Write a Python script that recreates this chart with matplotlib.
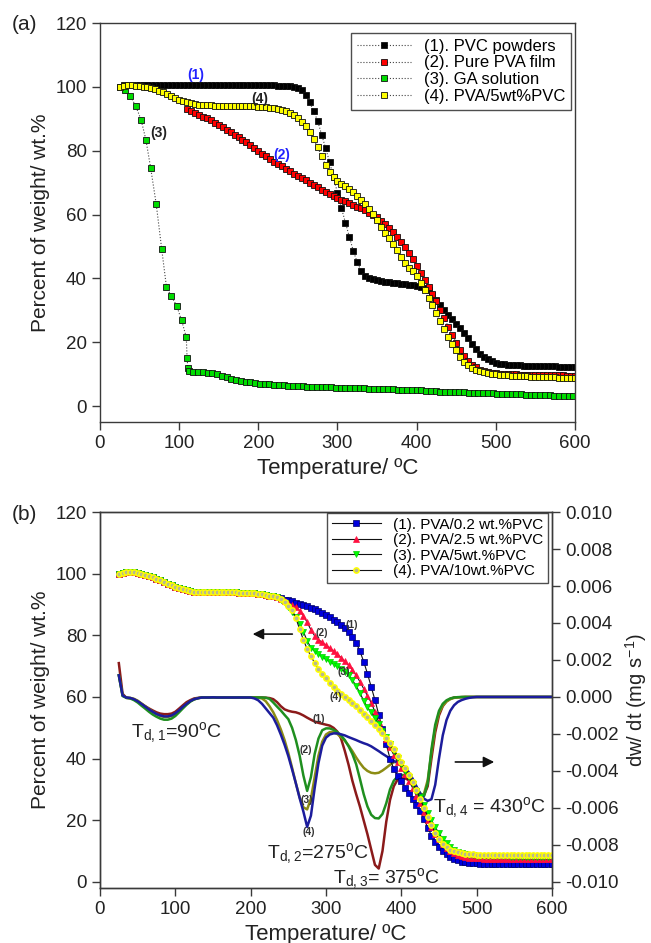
import matplotlib
matplotlib.use('Agg')
import matplotlib.pyplot as plt
from matplotlib.ticker import FormatStrFormatter

plt.rcParams['font.family'] = ['Liberation Sans', 'DejaVu Sans']
plt.rcParams['mathtext.fontset'] = 'custom'
plt.rcParams['mathtext.rm'] = 'Liberation Sans'
plt.rcParams['mathtext.default'] = 'regular'
plt.rcParams['axes.unicode_minus'] = False

# ---------------- panel (a) data: weight % vs temperature ----------------
a_temp_black = list(range(30, 605, 5))
a_black = [100.5, 100.6, 100.6, 100.6, 100.6, 100.6, 100.6, 100.6, 100.6, 100.6, 100.6, 100.6, 100.6, 100.6,
           100.6, 100.6, 100.6, 100.6, 100.6, 100.6, 100.6, 100.6, 100.6, 100.6, 100.6, 100.6, 100.6, 100.6,
           100.6, 100.6, 100.6, 100.6, 100.6, 100.6, 100.6, 100.6, 100.5, 100.5, 100.5, 100.4, 100.4, 100.3,
           100.3, 100.1, 99.7, 98.9, 97.4, 95.1, 92.4, 89.3, 85.0, 80.8, 76.5, 71.6, 66.8, 62.0,
           57.5, 53.0, 48.6, 45.0, 42.3, 40.8, 40.1, 39.7, 39.4, 39.2, 39.0, 38.8, 38.6, 38.5,
           38.3, 38.2, 38.0, 37.9, 37.7, 37.4, 37.0, 36.2, 34.9, 33.2, 31.5, 30.0, 28.6, 27.2,
           25.8, 24.4, 23.0, 21.4, 19.5, 17.8, 16.4, 15.4, 14.7, 14.1, 13.6, 13.3, 13.1, 12.9,
           12.8, 12.7, 12.7, 12.6, 12.6, 12.5, 12.5, 12.5, 12.4, 12.4, 12.4, 12.4, 12.3, 12.3,
           12.3, 12.3, 12.3]

a_temp_red = list(range(110, 605, 5))
a_red = [93.2, 92.3, 91.8, 91.3, 90.7, 90.1, 89.5, 88.8, 88.1, 87.4, 86.6, 85.8, 85.0, 84.2,
         83.4, 82.6, 81.7, 80.9, 80.0, 79.1, 78.2, 77.4, 76.6, 75.8, 75.1, 74.4, 73.6, 72.8,
         72.1, 71.4, 70.7, 70.0, 69.2, 68.5, 67.8, 67.1, 66.4, 65.8, 65.2, 64.7, 64.2, 63.6,
         63.1, 62.5, 61.9, 61.3, 60.6, 59.9, 59.1, 58.0, 56.9, 55.7, 54.5, 53.0, 51.4, 49.7,
         47.9, 46.0, 43.9, 41.7, 39.5, 37.3, 35.2, 33.0, 30.2, 27.6, 24.8, 22.2, 19.9, 17.6,
         15.8, 14.2, 13.0, 12.1, 11.4, 10.9, 10.6, 10.4, 10.2, 10.1, 10.0, 10.0, 9.9, 9.9,
         9.8, 9.8, 9.8, 9.7, 9.7, 9.7, 9.7, 9.6, 9.6, 9.6, 9.6, 9.6, 9.5, 9.5,
         9.5]

a_temp_green = [25, 31, 38, 45, 52, 58, 64, 71, 78, 84, 90, 97, 103, 109, 110, 111, 112] + list(range(118, 604, 6))
a_green = [100.0, 98.9, 97.2, 94.1, 89.6, 83.4, 74.6, 63.3, 49.1, 37.2, 34.5, 31.3, 26.9, 21.6, 15.2, 11.9, 10.9,
           10.8, 10.7, 10.6, 10.4, 10.2, 9.9, 9.5, 9.1, 8.6, 8.2, 7.9, 7.6, 7.4, 7.2, 7.0, 6.9, 6.8, 6.7,
           6.6, 6.5, 6.4, 6.3, 6.25, 6.2, 6.1, 6.05, 6.0, 5.95, 5.9, 5.85, 5.8, 5.75, 5.7, 5.65, 5.6, 5.55,
           5.5, 5.45, 5.4, 5.35, 5.3, 5.25, 5.2, 5.15, 5.1, 5.05, 5.0, 4.95, 4.9, 4.8, 4.7, 4.6, 4.5, 4.45,
           4.4, 4.35, 4.3, 4.25, 4.2, 4.15, 4.1, 4.05, 4.0, 3.95, 3.9, 3.85, 3.8, 3.75, 3.7, 3.65, 3.6, 3.55,
           3.5, 3.45, 3.4, 3.35, 3.3, 3.25, 3.2, 3.15, 3.1]

a_temp_yellow = list(range(25, 605, 5))
a_yellow = [100.0, 100.4, 100.6, 100.5, 100.4, 100.3, 100.1, 99.9, 99.6, 99.2, 98.8, 98.3, 97.7, 97.1,
            96.5, 95.9, 95.5, 95.1, 94.8, 94.6, 94.4, 94.3, 94.2, 94.2, 94.1, 94.1, 94.1, 94.1,
            94.1, 94.0, 94.0, 94.0, 94.0, 93.9, 93.9, 93.8, 93.7, 93.6, 93.5, 93.3, 93.1, 92.8,
            92.4, 91.9, 91.2, 90.3, 89.1, 87.6, 85.8, 83.6, 81.0, 78.3, 75.6, 73.3, 71.7, 70.6,
            69.7, 68.8, 67.9, 67.0, 65.9, 64.7, 63.3, 61.8, 60.2, 58.2, 56.0, 54.2, 52.6, 50.8,
            48.8, 46.8, 44.9, 43.3, 42.2, 40.8, 38.6, 36.2, 34.0, 31.5, 29.0, 26.6, 24.0, 21.5,
            19.4, 17.4, 15.4, 13.8, 12.7, 11.9, 11.3, 10.9, 10.6, 10.3, 10.1, 9.9, 9.8, 9.7,
            9.6, 9.5, 9.4, 9.4, 9.3, 9.3, 9.2, 9.2, 9.1, 9.1, 9.0, 9.0, 9.0, 8.9,
            8.9, 8.9, 8.8, 8.8]

a_labels = ['(1). PVC powders', '(2). Pure PVA film', '(3). GA solution', '(4). PVA/5wt%PVC']

# ---------------- panel (b) data: TG (left) and DTG (right) ----------------
b_temp = list(range(25, 605, 5))
tg_start = [100.0, 100.3, 100.5, 100.5, 100.4, 100.2, 100.0, 99.7, 99.3, 98.9,
            98.4, 97.9, 97.3, 96.8, 96.2, 95.7, 95.3, 94.9, 94.6, 94.4,
            94.2, 94.1, 94.0, 94.0, 94.0, 94.0, 93.9, 93.9, 93.9, 93.9,
            93.9, 93.9, 93.8, 93.8, 93.8, 93.7, 93.6, 93.5, 93.3, 93.1,
            92.9, 92.6, 92.3]
tg1 = tg_start + [92.0, 91.6, 91.3, 91.0, 90.6, 90.2, 89.9, 89.5, 89.0, 88.5,
                  88.0, 87.3, 86.6, 85.9, 85.1, 84.3, 83.4, 82.4, 81.1, 79.6,
                  77.6, 74.9, 71.5, 67.6, 63.3, 59.0, 54.3, 49.7, 44.6, 40.0,
                  36.6, 34.5, 32.6, 30.6, 28.8, 27.0, 25.0, 23.0, 20.5, 17.6,
                  15.0, 13.0, 11.4, 10.0, 9.0, 8.2, 7.5, 7.0, 6.6, 6.3,
                  6.1, 6.0, 6.0, 5.9, 5.9, 5.9, 5.9, 5.9, 5.8, 5.8,
                  5.8, 5.8, 5.8, 5.8, 5.8, 5.8, 5.7, 5.7, 5.7, 5.7,
                  5.7, 5.7, 5.7]
tg2 = tg_start + [91.8, 91.2, 90.5, 89.8, 89.2, 88.0, 86.4, 84.2, 81.8, 79.8,
                  78.6, 77.7, 76.8, 75.9, 74.9, 73.8, 72.8, 71.6, 70.3, 68.8,
                  67.0, 65.0, 62.7, 60.4, 58.2, 55.2, 51.8, 49.2, 46.3, 43.6,
                  41.2, 39.0, 37.0, 35.0, 32.8, 30.5, 28.0, 25.5, 22.8, 20.2,
                  17.8, 15.6, 13.8, 12.2, 11.0, 10.0, 9.3, 8.7, 8.3, 8.0,
                  7.8, 7.7, 7.6, 7.6, 7.5, 7.5, 7.5, 7.5, 7.4, 7.4,
                  7.4, 7.4, 7.4, 7.4, 7.3, 7.3, 7.3, 7.3, 7.3, 7.3,
                  7.3, 7.3, 7.3]
tg3 = tg_start + [91.5, 90.5, 89.2, 87.6, 85.8, 83.8, 81.2, 78.2, 76.0, 74.9,
                  74.0, 73.0, 72.2, 71.5, 70.7, 69.9, 69.1, 68.2, 67.1, 65.5,
                  63.6, 61.3, 58.8, 56.6, 55.1, 53.2, 51.2, 49.0, 46.9, 44.6,
                  42.4, 40.2, 38.2, 36.1, 34.0, 31.8, 29.6, 27.4, 25.0, 22.5,
                  20.0, 17.8, 15.7, 14.0, 12.6, 11.4, 10.5, 9.8, 9.3, 9.0,
                  8.7, 8.6, 8.5, 8.5, 8.4, 8.4, 8.4, 8.3, 8.3, 8.3,
                  8.3, 8.2, 8.2, 8.2, 8.2, 8.2, 8.1, 8.1, 8.1, 8.1,
                  8.1, 8.1, 8.1]
tg4 = tg_start + [91.8, 90.8, 89.6, 88.3, 85.6, 82.0, 78.5, 75.6, 73.2, 71.0,
                  69.0, 67.5, 66.1, 64.6, 63.3, 62.0, 61.0, 60.0, 59.0, 58.0,
                  57.1, 55.9, 54.6, 53.4, 52.2, 50.9, 49.6, 48.2, 46.6, 44.9,
                  43.0, 41.0, 39.0, 37.0, 34.8, 32.5, 29.8, 27.0, 24.1, 21.2,
                  18.5, 16.0, 13.9, 12.3, 11.3, 10.5, 10.0, 9.6, 9.3, 9.1,
                  9.0, 8.9, 8.8, 8.8, 8.8, 8.7, 8.7, 8.7, 8.7, 8.7,
                  8.7, 8.6, 8.6, 8.6, 8.6, 8.6, 8.6, 8.6, 8.6, 8.6,
                  8.6, 8.6, 8.6]
b_labels = ['(1). PVA/0.2 wt.%PVC', '(2). PVA/2.5 wt.%PVC', '(3). PVA/5wt.%PVC', '(4). PVA/10wt.%PVC']

# dw/dt in units of 1e-3 mg/s
dtg1 = [1.83, 0.17, -0.05, -0.07, -0.12, -0.23, -0.37, -0.50, -0.62, -0.73,
        -0.83, -0.90, -0.93, -0.93, -0.90, -0.80, -0.63, -0.45, -0.28, -0.17,
        -0.08, -0.05, -0.03, -0.03, -0.02, -0.03, -0.03, -0.03, -0.02, -0.03,
        -0.03, -0.03, -0.03, -0.02, -0.03, -0.03, -0.03, -0.03, -0.03, -0.04,
        -0.06, -0.12, -0.28, -0.50, -0.67, -0.75, -0.80, -0.83, -0.90, -1.00,
        -1.12, -1.23, -1.33, -1.40, -1.45, -1.50, -1.55, -1.67, -1.87, -2.25,
        -2.92, -3.67, -4.53, -5.25, -5.92, -6.67, -7.42, -8.25, -9.08, -9.28,
        -8.33, -6.75, -5.57, -4.83, -4.47, -4.37, -4.40, -4.50, -4.73, -5.03,
        -5.30, -5.33, -4.83, -3.33, -1.92, -1.00, -0.50, -0.23, -0.10, -0.03,
        -0.02, -0.01, 0.00, 0.00, 0.00, 0.00, 0.00, 0.00, 0.00, 0.00,
        0.00, 0.00, 0.00, 0.00, 0.00, 0.00, 0.00, 0.00, 0.00, 0.00,
        0.00, 0.00, 0.00, 0.00, 0.00, 0.00]
dtg2 = [1.17, 0.08, -0.03, -0.05, -0.10, -0.20, -0.35, -0.50, -0.65, -0.80,
        -0.93, -1.03, -1.08, -1.08, -1.03, -0.92, -0.75, -0.57, -0.38, -0.23,
        -0.13, -0.07, -0.03, -0.03, -0.03, -0.02, -0.03, -0.03, -0.03, -0.03,
        -0.03, -0.02, -0.03, -0.03, -0.03, -0.03, -0.03, -0.04, -0.08, -0.23,
        -0.50, -0.83, -1.25, -1.75, -2.33, -3.03, -3.83, -4.67, -5.42, -5.97,
        -6.08, -5.50, -4.33, -3.17, -2.42, -2.03, -1.90, -1.90, -2.00, -2.17,
        -2.37, -2.63, -2.93, -3.27, -3.57, -3.83, -4.00, -4.10, -4.13, -4.10,
        -3.98, -3.83, -3.67, -3.53, -3.50, -3.58, -3.92, -4.33, -4.75, -5.08,
        -5.30, -5.25, -4.50, -3.00, -1.67, -0.87, -0.47, -0.25, -0.12, -0.05,
        -0.02, -0.01, 0.00, 0.00, 0.00, 0.00, 0.00, 0.00, 0.00, 0.00,
        0.00, 0.00, 0.00, 0.00, 0.00, 0.00, 0.00, 0.00, 0.00, 0.00,
        0.00, 0.00, 0.00, 0.00, 0.00, 0.00]
dtg3 = [1.17, 0.05, -0.05, -0.08, -0.17, -0.30, -0.47, -0.63, -0.80, -0.95,
        -1.07, -1.17, -1.23, -1.23, -1.17, -1.03, -0.83, -0.62, -0.42, -0.25,
        -0.13, -0.07, -0.03, -0.03, -0.03, -0.02, -0.03, -0.03, -0.03, -0.03,
        -0.03, -0.03, -0.02, -0.03, -0.03, -0.03, -0.03, -0.03, -0.03, -0.04,
        -0.10, -0.30, -0.52, -0.73, -0.97, -1.20, -1.67, -2.33, -3.17, -4.25,
        -5.08, -4.33, -3.08, -2.25, -1.80, -1.70, -1.70, -1.78, -1.90, -2.08,
        -2.33, -2.67, -3.08, -3.63, -4.42, -5.25, -5.92, -6.37, -6.55, -6.57,
        -6.33, -5.75, -5.00, -4.53, -4.30, -4.22, -4.23, -4.33, -4.53, -4.87,
        -5.20, -5.37, -4.67, -2.83, -1.50, -0.75, -0.37, -0.18, -0.08, -0.03,
        -0.01, 0.00, 0.00, 0.00, 0.00, 0.00, 0.00, 0.00, 0.00, 0.00,
        0.00, 0.00, 0.00, 0.00, 0.00, 0.00, 0.00, 0.00, 0.00, 0.00,
        0.00, 0.00, 0.00, 0.00, 0.00, 0.00]
dtg4 = [1.17, 0.08, -0.03, -0.05, -0.12, -0.23, -0.37, -0.52, -0.67, -0.80,
        -0.92, -1.00, -1.05, -1.05, -1.00, -0.88, -0.72, -0.53, -0.37, -0.22,
        -0.12, -0.07, -0.03, -0.03, -0.03, -0.02, -0.03, -0.03, -0.03, -0.03,
        -0.03, -0.03, -0.03, -0.03, -0.03, -0.03, -0.08, -0.18, -0.37, -0.62,
        -0.87, -1.12, -1.53, -2.03, -2.58, -3.20, -3.92, -4.67, -5.47, -6.20,
        -7.03, -6.42, -4.92, -3.58, -2.63, -2.20, -2.03, -1.97, -1.97, -2.02,
        -2.08, -2.17, -2.25, -2.33, -2.42, -2.50, -2.57, -2.67, -2.80, -2.93,
        -3.07, -3.20, -3.33, -3.45, -3.57, -3.70, -3.83, -4.08, -4.42, -4.83,
        -5.23, -5.50, -5.62, -5.53, -4.75, -3.33, -2.08, -1.25, -0.75, -0.45,
        -0.27, -0.17, -0.10, -0.05, -0.02, 0.00, 0.00, 0.00, 0.00, 0.00,
        0.00, 0.00, 0.00, 0.00, 0.00, 0.00, 0.00, 0.00, 0.00, 0.00,
        0.00, 0.00, 0.00, 0.00, 0.00, 0.00]

y_ticks = [0, 20, 40, 60, 80, 100, 120]
x_ticks = [0, 100, 200, 300, 400, 500, 600]
dtg_ticks = [-0.010, -0.008, -0.006, -0.004, -0.002, 0.000, 0.002, 0.004, 0.006, 0.008, 0.010]

TXT = '#222222'
SPINE = '#3a3a3a'


def style_axes(ax):
    for s in ax.spines.values():
        s.set_linewidth(1.0)
        s.set_color(SPINE)
    ax.tick_params(direction='out', length=6, width=1.0, colors=SPINE,
                   labelsize=13.5, labelcolor=TXT)


fig = plt.figure(figsize=(6.51, 9.43), dpi=100)

# ---------------- (a) ----------------
ax1 = fig.add_axes([0.1536, 0.5525, 0.7296, 0.4231])
mk = dict(ls=':', color='#444444', lw=0.8, marker='s', ms=4.0, mec='#111111', mew=0.6)
ax1.plot(a_temp_black, a_black, mfc='#000000', label=a_labels[0], **mk)
ax1.plot(a_temp_red, a_red, mfc='#ff0000', label=a_labels[1], **mk)
ax1.plot(a_temp_green, a_green, mfc='#00dd00', label=a_labels[2], **mk)
ax1.plot(a_temp_yellow, a_yellow, mfc='#ffff00', label=a_labels[3], **mk)
ax1.set_xlim(0, 600)
ax1.set_ylim(-5, 120)
ax1.set_xticks(x_ticks)
ax1.set_yticks(y_ticks)
style_axes(ax1)
ax1.set_xlabel('Temperature/ ºC', fontsize=16, color=TXT)
ax1.set_ylabel('Percent of weight/ wt.%', fontsize=15, color=TXT)
leg = ax1.legend(loc='upper right', bbox_to_anchor=(0.992, 0.975), fontsize=12,
                 frameon=True, fancybox=False, edgecolor='#222222', handlelength=3.2,
                 numpoints=1, labelspacing=0.1, borderpad=0.35, borderaxespad=0)
leg.get_frame().set_linewidth(1.0)
ax1.text(121, 103.6, '(1)', color='#2222ff', fontsize=10, fontweight='bold', ha='center', va='center')
ax1.text(229, 78.8, '(2)', color='#2222ff', fontsize=10, fontweight='bold', ha='center', va='center')
ax1.text(74.5, 85.5, '(3)', color='#222222', fontsize=10, fontweight='bold', ha='center', va='center')
ax1.text(202, 96.3, '(4)', color='#222222', fontsize=10, fontweight='bold', ha='center', va='center')

# ---------------- (b) ----------------
ax2 = fig.add_axes([0.1536, 0.0583, 0.6943, 0.3987])
ax3 = ax2.twinx()
dtg_colors = ['#8b1a1a', '#8c8c14', '#1f8f1f', '#1c1c9c']
for d, c in zip([dtg1, dtg2, dtg3, dtg4], dtg_colors):
    ax3.plot(b_temp, [v / 1000 for v in d], color=c, lw=1.8)
ax3.set_ylim(-0.010333, 0.010)
ax3.set_yticks(dtg_ticks)
ax3.yaxis.set_major_formatter(FormatStrFormatter('%.3f'))
style_axes(ax3)
ax3.set_ylabel('dw/ dt (mg s$^{-1}$)', fontsize=14.5, color=TXT, labelpad=3)

ax2.set_zorder(ax3.get_zorder() + 1)
ax2.patch.set_visible(False)
lk = dict(ls='-', color='#111111', lw=0.8, ms=3.8)
ax2.plot(b_temp, tg1, marker='s', mfc='#0000dd', mec='#000066', mew=0.5, label=b_labels[0], **lk)
ax2.plot(b_temp, tg2, marker='^', mfc='#ff1040', mec='#ff1040', mew=0.5, label=b_labels[1], **lk)
ax2.plot(b_temp, tg3, marker='v', mfc='#00ff00', mec='#00cc00', mew=0.5, label=b_labels[2], **lk)
ax2.plot(b_temp, tg4, marker='o', mfc='#b8b890', mec='#ffff00', mew=1.1, label=b_labels[3], **lk)
ax2.set_xlim(0, 600)
ax2.set_ylim(-2, 120)
ax2.set_xticks(x_ticks)
ax2.set_yticks(y_ticks)
style_axes(ax2)
ax2.set_xlabel('Temperature/ ºC', fontsize=16, color=TXT)
ax2.set_ylabel('Percent of weight/ wt.%', fontsize=15, color=TXT)
leg2 = ax2.legend(loc='upper right', bbox_to_anchor=(0.991, 0.997), fontsize=11,
                  frameon=True, fancybox=False, edgecolor='#222222', handlelength=3.2,
                  numpoints=1, labelspacing=0.1, borderpad=0.3, borderaxespad=0)
leg2.get_frame().set_linewidth(1.0)

small = dict(fontsize=7.5, fontweight='bold', color='#333333', ha='center', va='center')
ax2.text(334, 83.4, '(1)', **small)
ax2.text(294, 80.9, '(2)', **small)
ax2.text(323, 68.2, '(3)', **small)
ax2.text(313, 60.1, '(4)', **small)
ax2.text(290, 52.8, '(1)', **small)
ax2.text(273.5, 42.8, '(2)', **small)
ax2.text(274, 26.5, '(3)', **small)
ax2.text(276.5, 16.3, '(4)', **small)

td = dict(fontsize=14, color=TXT, va='center')
ax2.text(102, 48.3, 'T$_{d,1}$=90$^{o}$C', ha='center', **td)
ax2.text(289, 9.3, 'T$_{d,2}$=275$^{o}$C', ha='center', **td)
ax2.text(381, 1.2, 'T$_{d,3}$= 375$^{o}$C', ha='center', **td)
ax2.text(442, 24, 'T$_{d,4}$ = 430$^{o}$C', ha='left', **td)

arr = dict(arrowstyle='-|>', color='#111111', lw=1.2, mutation_scale=16)
ax2.annotate('', xy=(199, 80.4), xytext=(259, 80.4), arrowprops=arr)
ax2.annotate('', xy=(527, 38.9), xytext=(468, 38.9), arrowprops=arr)

fig.text(0.018, 0.9735, '(a)', fontsize=15, color=TXT, va='center')
fig.text(0.018, 0.4539, '(b)', fontsize=15, color=TXT, va='center')

fig.savefig('out.png', dpi=100)
